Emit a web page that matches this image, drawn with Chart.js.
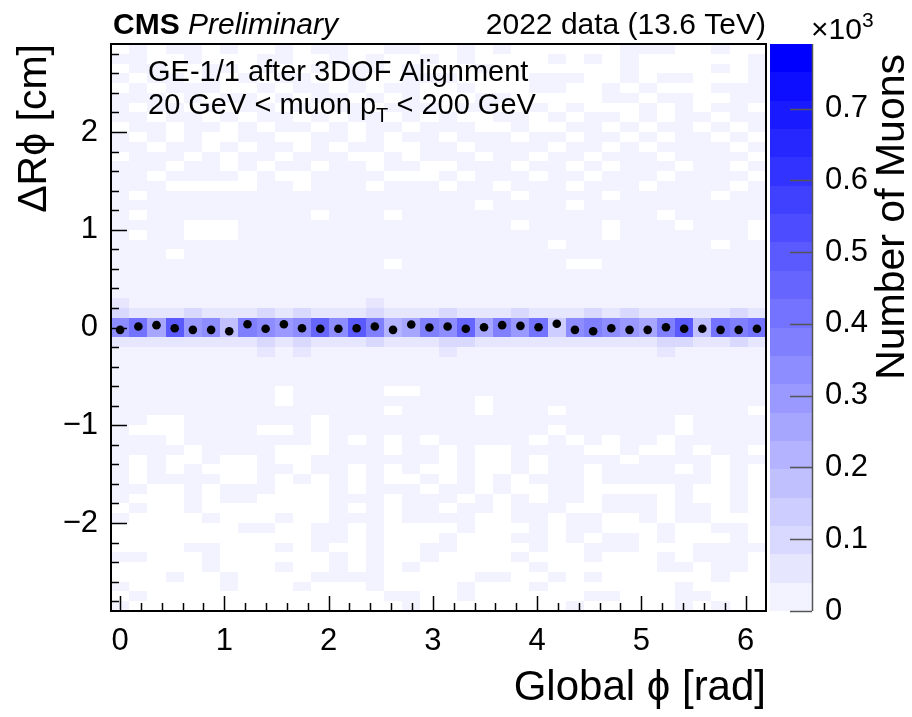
<!DOCTYPE html>
<html><head><meta charset="utf-8">
<script src="https://cdn.jsdelivr.net/npm/chart.js"></script>
<style>html,body{margin:0;padding:0;background:#fff}canvas{display:block}</style>
</head><body>
<canvas id="c" width="912" height="717"></canvas>
<script>
// ---------------- data ----------------
// centres of the 36 global-phi bins (rad), 10 degree bins
const phiCenters = [0.000, 0.175, 0.349, 0.524, 0.698, 0.873, 1.047, 1.222, 1.396, 1.571, 1.745, 1.920,
  2.094, 2.269, 2.443, 2.618, 2.793, 2.967, 3.142, 3.316, 3.491, 3.665, 3.840, 4.014,
  4.189, 4.363, 4.538, 4.712, 4.887, 5.061, 5.236, 5.411, 5.585, 5.760, 5.934, 6.109];
const phiBinWidth = 0.1745;
// mean residual per phi bin (black markers), cm
const dRphiMeans = [-0.024, 0.010, 0.024, -0.007, -0.024, -0.024, -0.038, 0.034, -0.013, 0.034, -0.007, -0.013,
  -0.013, -0.007, 0.010, -0.024, 0.031, 0.000, 0.010, -0.013, 0.003, 0.024, 0.017, 0.003,
  0.038, -0.024, -0.038, -0.007, -0.024, -0.024, 0.003, -0.013, -0.013, -0.024, -0.024, -0.013];
// muon counts in the two central residual bins (0..0.1 cm and -0.1..0 cm)
const bandUpper = [340, 420, 260, 500, 300, 340, 180, 380, 340, 300, 340, 460, 340, 500, 380, 220, 260, 380,
  340, 460, 260, 380, 300, 420, 140, 340, 380, 340, 300, 260, 380, 500, 180, 420, 380, 420];
const bandLower = [350, 410, 270, 510, 290, 330, 170, 390, 330, 310, 350, 450, 330, 490, 390, 230, 250, 370,
  350, 450, 270, 370, 310, 410, 150, 330, 390, 350, 290, 270, 370, 510, 170, 430, 370, 410];
// sparse cells, coded: 0 = empty, 1 = few muons, 2 / 3 = somewhat more
const cellCodeCounts = {'0': 0, '1': 12, '2': 60, '3': 100};
// rows from +2.9 down to +0.1 cm (0.1 cm each)
const rowsAbove = [
  "010110100101100110010100000011100100",
  "110010001100101001010000101010000001",
  "011001101001011010001000000010000101",
  "101101010110010011100001110010110001",
  "010111001011010110010001100101000111",
  "111010110101101010001100000110110011",
  "101101011010110111011001010001010110",
  "110110101101011010100110101101011011",
  "011011010110101101110010011010110101",
  "101010011001101011011101101101011010",
  "110110101101011001101111011010111101",
  "011101011011100101110110110111011110",
  "111011010110110110011101101011101101",
  "110111101001111000101110110111011110",
  "111000001101110111011011101110111101",
  "101111111111111111111101111011111011",
  "111111111111111111110111101111111111",
  "101111111110111011111111111111011111",
  "111100011111111111111101111011101110",
  "101100011111111111111111111011111110",
  "111111111111111111111111011111111011",
  "111011111111111111111111111111111111",
  "111111111111111011111111100111111111",
  "111111111111111111111111111111111111",
  "111111111111111111111111111111111111",
  "111111111111111111111111111111111111",
  "211111111111112111111111111111111111",
  "322232223232223222322232223232222232"
];
// rows from -0.1 down to -2.9 cm
const rowsBelow = [
  "222222223232223222332222222222332232",
  "111111112121111111211111111111211111",
  "111111111111111111111111111111111111",
  "111111111111111111111111111111111111",
  "111111111111111111111111111111111111",
  "111111111011111001111111111111111111",
  "111111111011111111110111111111111111",
  "111111111111111011110111011111111110",
  "110011111110111111111111111111101111",
  "100011110010111111111111011111101111",
  "111011111110101010111110101011011111",
  "111101111000111011010011110010010110",
  "101001001001111111010010111101111011",
  "101010001101101010010010110111101010",
  "101111001010101001010101110111111010",
  "110010111000101110110100110000010010",
  "100010110000111011101010110111010010",
  "010010000000101011011011100111011010",
  "100001000100111011110011011001011000",
  "000000011001101000010001011000100110",
  "000000000001101000100011010110100010",
  "000011000101001001100001001110001111",
  "110001000000101001000010001000101110",
  "000001000100101010000001000000110110",
  "000100100001111000001100101000000100",
  "100000100010001000010001000000010000",
  "010000000000000110010000001100011000",
  "100000000000000010000000010000010100"
];
const residualBinHeight = 0.1;
const xRange = [-0.0873, 6.1959];
const yRange = [-2.9, 2.9];
const zRange = [0, 0.79];            // in units of 10^3 muons
const nContours = 20;
const xTickValues = [0, 1, 2, 3, 4, 5, 6];
const yTickValues = [-2, -1, 0, 1, 2];
const zTickValues = [0, 0.1, 0.2, 0.3, 0.4, 0.5, 0.6, 0.7];

// ---------------- drawing ----------------
const FONT = "'Liberation Sans', Arial, Helvetica, sans-serif";
Chart.defaults.font.family = FONT;
Chart.defaults.color = '#000';

function levelColor(level) {
  const t = level / (nContours - 1);
  const c = Math.round(243 * (1 - t));
  return `rgb(${c},${c},255)`;
}
function colorForCount(n) {
  const step = zRange[1] * 1000 / nContours;
  const level = Math.min(nContours - 1, Math.floor(n / step));
  return levelColor(level);
}

const histPlugin = {
  id: 'hist',
  beforeDatasetsDraw(chart) {
    const {ctx, scales: {x, y}} = chart;
    const rows = [];
    rowsAbove.forEach(s => rows.push(Array.from(s, ch => cellCodeCounts[ch])));
    rows.push(bandUpper);
    rows.push(bandLower);
    rowsBelow.forEach(s => rows.push(Array.from(s, ch => cellCodeCounts[ch])));
    const edges = phiCenters.map(p => Math.round(x.getPixelForValue(p - phiBinWidth / 2)));
    edges.push(Math.round(x.getPixelForValue(phiCenters[phiCenters.length - 1] + phiBinWidth / 2)));
    ctx.save();
    rows.forEach((row, r) => {
      const yHi = yRange[1] - r * residualBinHeight;
      const yLo = yHi - residualBinHeight;
      const py0 = Math.round(y.getPixelForValue(yHi));
      const py1 = Math.round(y.getPixelForValue(yLo));
      row.forEach((n, c) => {
        if (!n) return;
        ctx.fillStyle = colorForCount(n);
        ctx.fillRect(edges[c], py0, edges[c + 1] - edges[c], py1 - py0);
      });
    });
    ctx.restore();
  }
};

const decorPlugin = {
  id: 'decor',
  afterDraw(chart) {
    const {ctx, chartArea: a, scales: {x, y, z}} = chart;
    ctx.save();
    // axis ticks (ROOT style, inside)
    ctx.strokeStyle = '#000';
    ctx.lineWidth = 1.5;
    ctx.beginPath();
    for (let i = 0; i <= 31; i++) {
      const v = i * 0.2;
      if (v > xRange[1]) break;
      const major = Math.abs(v - Math.round(v)) < 1e-6;
      const px = Math.round(x.getPixelForValue(v)) + 0.5;
      ctx.moveTo(px, a.bottom);
      ctx.lineTo(px, a.bottom - (major ? 15 : 8));
    }
    for (let i = -14; i <= 14; i++) {
      const v = i * 0.2;
      const major = i % 5 === 0;
      const py = Math.round(y.getPixelForValue(v)) + 0.5;
      ctx.moveTo(a.left, py);
      ctx.lineTo(a.left + (major ? 16 : 8), py);
    }
    ctx.stroke();
    // frame
    ctx.lineWidth = 2;
    ctx.strokeRect(a.left, a.top, a.right - a.left, a.bottom - a.top);

    // colour bar
    const cbL = a.right + 4, cbR = a.right + 46;
    const step = (zRange[1] - zRange[0]) / nContours;
    for (let k = 0; k < nContours; k++) {
      const p0 = Math.round(z.getPixelForValue(zRange[0] + (k + 1) * step));
      const p1 = Math.round(z.getPixelForValue(zRange[0] + k * step));
      ctx.fillStyle = levelColor(k);
      ctx.fillRect(cbL, p0, cbR - cbL, p1 - p0);
    }
    ctx.strokeStyle = '#555';
    ctx.lineWidth = 1.5;
    ctx.beginPath();
    ctx.moveTo(cbR + 0.5, z.getPixelForValue(zRange[1]));
    ctx.lineTo(cbR + 0.5, z.getPixelForValue(0));
    zTickValues.forEach(v => {
      const py = Math.round(z.getPixelForValue(v)) + 0.5;
      ctx.moveTo(cbR, py);
      ctx.lineTo(cbR - 22, py);
    });
    ctx.stroke();

    // texts
    ctx.fillStyle = '#000';
    ctx.textBaseline = 'alphabetic';
    ctx.textAlign = 'left';
    ctx.font = `bold 30px ${FONT}`;
    ctx.fillText('CMS', 113, 34);
    const cmsW = ctx.measureText('CMS ').width;
    ctx.font = `italic 30px ${FONT}`;
    ctx.fillText('Preliminary', 113 + cmsW, 34);
    ctx.font = `30px ${FONT}`;
    ctx.textAlign = 'right';
    ctx.fillText('2022 data (13.6 TeV)', a.right, 34);

    ctx.textAlign = 'left';
    ctx.font = `29px ${FONT}`;
    ctx.fillText('GE-1/1 after 3DOF Alignment', 148, 81);
    let tx = 148;
    const part1 = '20 GeV < muon p';
    ctx.fillText(part1, tx, 114);
    tx += ctx.measureText(part1).width;
    ctx.font = `20px ${FONT}`;
    ctx.fillText('T', tx, 122);
    tx += ctx.measureText('T').width;
    ctx.font = `29px ${FONT}`;
    ctx.fillText(' < 200 GeV', tx, 114);

    // colour bar exponent and title
    ctx.font = `30px ${FONT}`;
    ctx.fillText('\u00d710', cbR - 1, 39);
    const ew = ctx.measureText('\u00d710').width;
    ctx.font = `21px ${FONT}`;
    ctx.fillText('3', cbR - 1 + ew, 27);

    ctx.save();
    ctx.translate(904, 54);
    ctx.rotate(-Math.PI / 2);
    ctx.textAlign = 'right';
    ctx.font = `41px ${FONT}`;
    ctx.fillText('Number of Muons', 0, 0);
    ctx.restore();

    ctx.restore();
  }
};

const minusFmt = v => (v < 0 ? '\u2212' + Math.abs(v) : String(v));
const noPad = s => { s.paddingTop = 0; s.paddingBottom = 0; s.paddingLeft = 0; s.paddingRight = 0; };

new Chart(document.getElementById('c'), {
  type: 'scatter',
  data: {
    datasets: [{
      data: phiCenters.map((p, i) => ({x: p, y: dRphiMeans[i]})),
      pointRadius: 4.3, pointHoverRadius: 4.3, pointBorderWidth: 0,
      backgroundColor: '#000', borderColor: '#000',
      xAxisID: 'x', yAxisID: 'y'
    }]
  },
  options: {
    responsive: false, animation: false, devicePixelRatio: 1, events: [],
    layout: {padding: {top: 44, right: 0, bottom: 0, left: 0}},
    plugins: {legend: {display: false}, tooltip: {enabled: false}},
    scales: {
      x: {
        type: 'linear', position: 'bottom', min: xRange[0], max: xRange[1],
        grid: {display: false, drawTicks: false}, border: {display: false},
        afterBuildTicks: s => { s.ticks = xTickValues.map(v => ({value: v})); },
        ticks: {font: {size: 31}, color: '#000', padding: 12, maxRotation: 0, autoSkip: false, callback: minusFmt},
        title: {display: true, text: 'Global \u03d5 [rad]', align: 'end', color: '#000', font: {size: 42}, padding: {top: 0, bottom: 3}},
        afterFit: s => { s.height = 106; noPad(s); }
      },
      y: {
        type: 'linear', position: 'left', min: yRange[0], max: yRange[1],
        grid: {display: false, drawTicks: false}, border: {display: false},
        afterBuildTicks: s => { s.ticks = yTickValues.map(v => ({value: v})); },
        ticks: {font: {size: 31}, color: '#000', padding: 13, autoSkip: false, callback: minusFmt},
        title: {display: true, text: '\u0394R\u03d5 [cm]', align: 'end', color: '#000', font: {size: 41}, padding: {top: 10, bottom: 0}},
        afterFit: s => { s.width = 111; noPad(s); }
      },
      z: {
        type: 'linear', position: 'right', axis: 'y', min: zRange[0], max: zRange[1],
        grid: {display: false, drawTicks: false}, border: {display: false},
        afterBuildTicks: s => { s.ticks = zTickValues.map(v => ({value: v})); },
        ticks: {font: {size: 31}, color: '#000', padding: 59, autoSkip: false,
          callback: v => (v === 0 ? '0' : v.toFixed(1))},
        afterFit: s => { s.width = 146; noPad(s); }
      }
    }
  },
  plugins: [histPlugin, decorPlugin]
});
</script>
</body></html>
